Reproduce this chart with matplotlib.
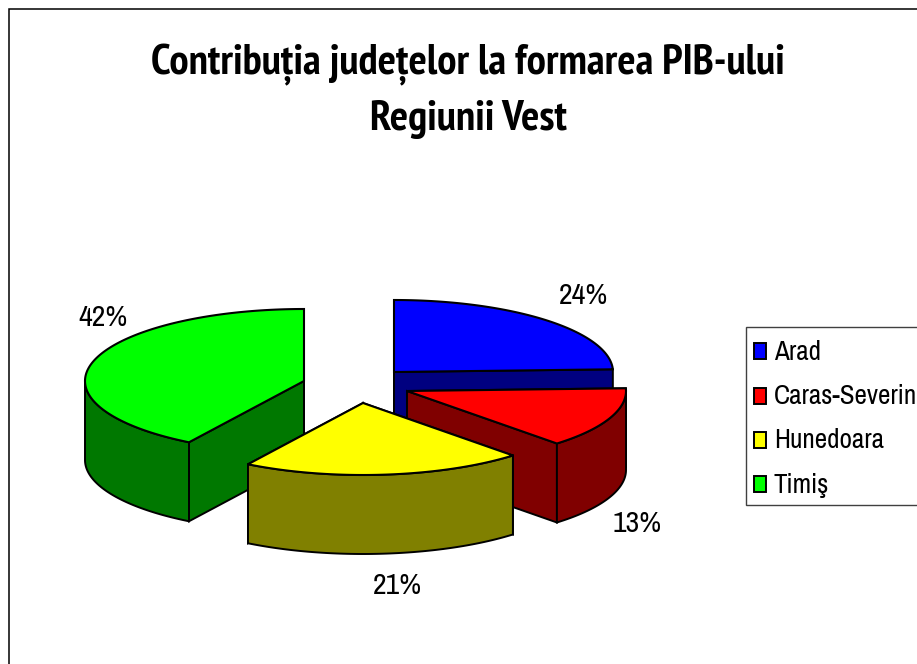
import numpy as np
import matplotlib
matplotlib.use('Agg')
import matplotlib.pyplot as plt
from matplotlib.patches import Polygon, Rectangle

# date
judete = ['Arad', 'Caras-Severin', 'Hunedoara', 'Timiş']
procente = [24.4, 13.6, 20.8, 41.2]
etichete = ['24%', '13%', '21%', '42%']
titlu = 'Contribuția județelor la formarea PIB-ului\nRegiunii Vest'

# stil
culori = ['#0000ff', '#ff0000', '#ffff00', '#00ff00']
umbre = ['#000080', '#800000', '#808000', '#007800']
centre = [(394, 372), (407, 391), (363, 403), (304, 381)]
poz_etichete = [(583, 296), (637, 523), (397, 586), (103, 317)]
poz_legenda = [352, 397, 441, 485]
rx, ry = 219, 72
adancime = 79
narrow = ['Archivo Narrow', 'Liberation Sans']
narrow_bold = ['PT Sans Narrow', 'Liberation Sans']


def punct(c, t):
    return np.column_stack([c[0] + rx*np.sin(t), c[1] - ry*np.cos(t)])


fig = plt.figure(figsize=(9.17, 6.64), dpi=100)
ax = fig.add_axes([0, 0, 1, 1])
ax.set_xlim(0, 917)
ax.set_ylim(664, 0)
ax.axis('off')

# rama
ax.add_patch(Rectangle((8.5, 8.5), 950, 700, fc='white', ec='black', lw=1.1))

unghiuri = np.concatenate([[0], np.cumsum(procente)]) / sum(procente) * 2*np.pi
felii = [(i, unghiuri[i], unghiuri[i+1]) for i in range(4)]

# ordinea de desenare: din spate in fata
for i, a, b in [felii[3], felii[0], felii[1], felii[2]]:
    c = np.array(centre[i], float)
    jos = np.array([0, adancime])
    for u in (a, b):
        p = punct(c, np.array([u]))[0]
        ax.add_patch(Polygon([c, p, p+jos, c+jos], fc=umbre[i], ec='black', lw=1.4))
    # peretele exterior, doar partea din fata
    s, e = max(a, np.pi/2), min(b, 3*np.pi/2)
    if e > s:
        arc = punct(c, np.linspace(s, e, 80))
        ax.add_patch(Polygon(np.vstack([arc, (arc+jos)[::-1]]), fc=umbre[i], ec='black', lw=1.4))
    arc = punct(c, np.linspace(a, b, 120))
    ax.add_patch(Polygon(np.vstack([c, arc]), fc=culori[i], ec='black', lw=1.5))

for i in range(4):
    ax.text(poz_etichete[i][0], poz_etichete[i][1], etichete[i], ha='center', va='center',
            fontsize=21.5, family=narrow, color='black')

ax.text(468, 91.5, titlu, ha='center', va='center', fontsize=31, fontweight='bold',
        family=narrow_bold, linespacing=1.45, color='black')

# legenda
ax.add_patch(Rectangle((745.5, 326.5), 200, 178, fc='white', ec='#404040', lw=1))
for i in range(4):
    ax.add_patch(Rectangle((753.5, poz_legenda[i]-9), 12.5, 15.5, fc=culori[i], ec='black', lw=1.4))
    ax.text(774, poz_legenda[i], judete[i], ha='left', va='center', fontsize=19.5,
            family=narrow, color='black')

fig.savefig('out.png', dpi=100)
